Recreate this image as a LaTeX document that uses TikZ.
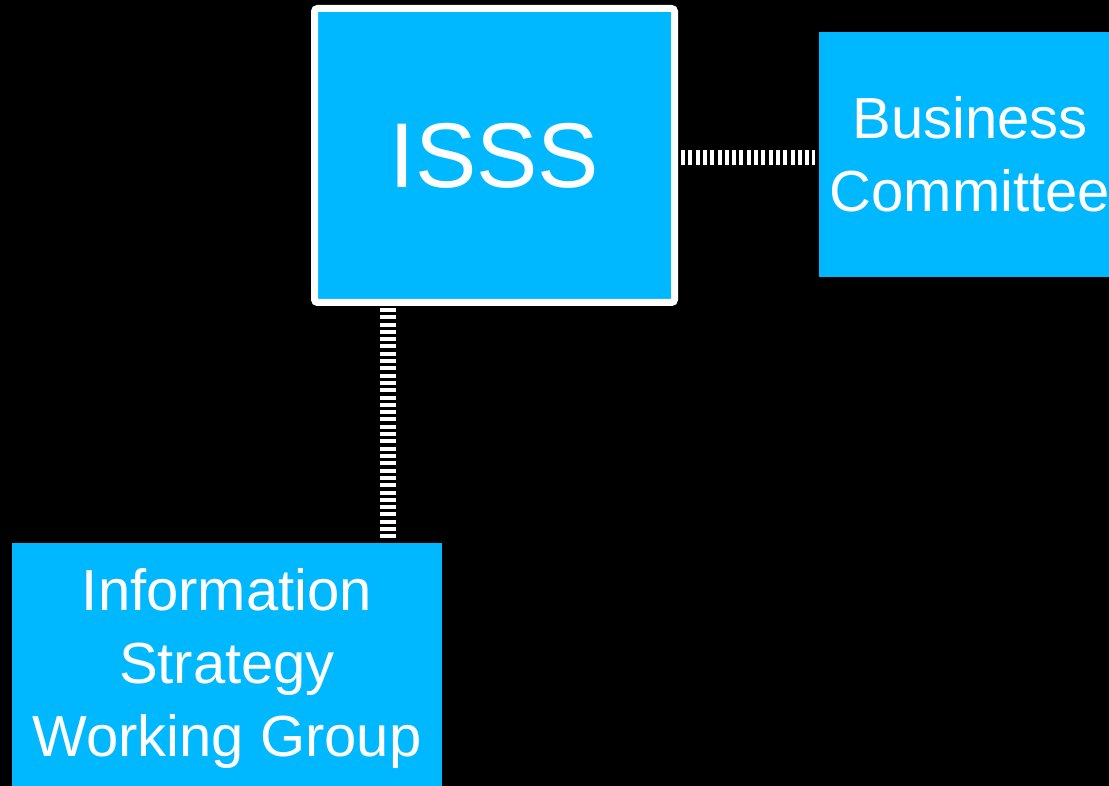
\documentclass[tikz,border=0pt]{standalone}
\usepackage{fontspec}
\setmainfont{Liberation Sans}
\definecolor{boxblue}{RGB}{0,184,255}
\tikzset{
  orgbox/.style={fill=boxblue, draw=none, text=white, align=center, inner sep=0pt,
    font=\fontsize{58}{73}\selectfont},
  conn/.style={draw=white, dash pattern=on 4pt off 3.3pt}
}
\begin{document}
\begin{tikzpicture}[x=1pt,y=-1pt]
\fill[black] (0,0) rectangle (1109,786);
\useasboundingbox (0,0) rectangle (1109,786);
% ISSS
\node[orgbox, draw=white, line width=7pt, rounded corners=3pt,
  minimum width=360pt, minimum height=294pt, font=\fontsize{92}{100}\selectfont]
  (isss) at (494.5,155.5) {ISSS};
% Business Committee
\node[orgbox, minimum width=302pt, minimum height=245pt] (bc) at (970,154.5)
  {Business\\Committee};
% Information Strategy Working Group
\node[orgbox, minimum width=430pt, minimum height=252pt] (isw) at (227,669)
  {Information\\Strategy\\Working Group};
% connectors
\draw[conn, line width=15pt, shorten <=3pt, shorten >=4pt]
  ([yshift=-2pt]isss.east) -- ([yshift=-3pt]bc.west);
\coordinate (vtop) at ([xshift=-106.5pt]isss.south);
\draw[conn, line width=16pt, shorten <=2pt, shorten >=3pt]
  (vtop) -- (vtop |- isw.north);
\end{tikzpicture}
\end{document}
